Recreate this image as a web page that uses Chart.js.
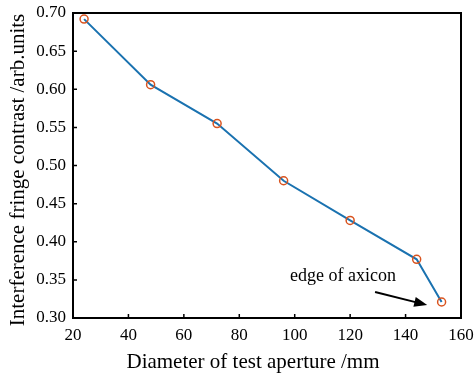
<!DOCTYPE html>
<html>
<head>
<meta charset="utf-8">
<script src="https://cdn.jsdelivr.net/npm/chart.js@4"></script>
<style>
  html, body { margin: 0; padding: 0; background: #fff; }
  #wrap { width: 474px; height: 378px; }
</style>
</head>
<body>
<div id="wrap"><canvas id="chart" width="474" height="378"></canvas></div>
<script>
// aperture diameter (mm) and measured contrast
const diameters = [24, 48, 72, 96, 120, 144, 153]
const contrast = [0.692, 0.606, 0.555, 0.480, 0.428, 0.377, 0.321]
const xTicks = [20, 40, 60, 80, 100, 120, 140, 160]
const yTicks = [0.30, 0.35, 0.40, 0.45, 0.50, 0.55, 0.60, 0.65, 0.70]
const xTitle = 'Diameter of test aperture /mm'
const yTitle = 'Interference fringe contrast /arb.units'

const serif = '"Liberation Serif", "Times New Roman", serif'

// inward ticks, box, axis titles and the axicon note
const framePlugin = {
  id: 'frame',
  afterDraw(chart) {
    const ctx = chart.ctx
    const a = chart.chartArea
    const x = chart.scales.x
    const y = chart.scales.y
    ctx.save()
    ctx.strokeStyle = '#000'
    ctx.lineWidth = 1.5
    ctx.beginPath()
    xTicks.forEach(v => {
      const px = x.getPixelForValue(v)
      ctx.moveTo(px, a.bottom)
      ctx.lineTo(px, a.bottom - 4)
    })
    yTicks.forEach(v => {
      const py = y.getPixelForValue(v)
      ctx.moveTo(a.left, py)
      ctx.lineTo(a.left + 4, py)
    })
    ctx.stroke()
    ctx.lineWidth = 2
    ctx.strokeRect(a.left, a.top, a.right - a.left, a.bottom - a.top)

    // axis titles
    ctx.fillStyle = '#000'
    ctx.font = '21px ' + serif
    ctx.textAlign = 'center'
    ctx.textBaseline = 'middle'
    ctx.fillText(xTitle, 253, 362)
    ctx.save()
    ctx.translate(18, 170)
    ctx.rotate(-Math.PI / 2)
    ctx.fillText(yTitle, 0, 0)
    ctx.restore()

    // annotation
    ctx.font = '18px ' + serif
    ctx.textAlign = 'left'
    ctx.fillText('edge of axicon', x.getPixelForValue(98.3), y.getPixelForValue(0.355))
    const x0 = x.getPixelForValue(129), y0 = y.getPixelForValue(0.334)
    const x1 = x.getPixelForValue(147.8), y1 = y.getPixelForValue(0.317)
    const ang = Math.atan2(y1 - y0, x1 - x0)
    ctx.lineWidth = 2
    ctx.beginPath()
    ctx.moveTo(x0, y0)
    ctx.lineTo(x1 - 8 * Math.cos(ang), y1 - 8 * Math.sin(ang))
    ctx.stroke()
    ctx.beginPath()
    ctx.moveTo(x1, y1)
    ctx.lineTo(x1 - 13 * Math.cos(ang) + 5 * Math.sin(ang), y1 - 13 * Math.sin(ang) - 5 * Math.cos(ang))
    ctx.lineTo(x1 - 13 * Math.cos(ang) - 5 * Math.sin(ang), y1 - 13 * Math.sin(ang) + 5 * Math.cos(ang))
    ctx.closePath()
    ctx.fill()
    ctx.restore()
  }
}

new Chart(document.getElementById('chart').getContext('2d'), {
  type: 'scatter',
  data: {
    datasets: [{
      data: diameters.map((d, i) => ({ x: d, y: contrast[i] })),
      showLine: true,
      borderColor: '#1a72b0',
      borderWidth: 2,
      pointRadius: 4,
      pointBorderWidth: 1.5,
      pointBorderColor: '#d9531e',
      pointBackgroundColor: 'rgba(0,0,0,0)',
      tension: 0
    }]
  },
  options: {
    responsive: false,
    animation: false,
    layout: { padding: { top: 13, right: 13, left: 0, bottom: 0 } },
    plugins: { legend: { display: false }, tooltip: { enabled: false } },
    scales: {
      x: {
        type: 'linear',
        min: 20, max: 160,
        afterBuildTicks: s => { s.ticks = xTicks.map(v => ({ value: v })) },
        afterFit: s => { s.height = 60; s.paddingLeft = 0; s.paddingRight = 0 },
        grid: { display: false, drawTicks: false },
        border: { display: false },
        ticks: { color: '#000', font: { family: serif, size: 17 }, padding: 7 }
      },
      y: {
        min: 0.30, max: 0.70,
        afterBuildTicks: s => { s.ticks = yTicks.map(v => ({ value: v })) },
        afterFit: s => { s.width = 73; s.paddingTop = 0; s.paddingBottom = 0 },
        grid: { display: false, drawTicks: false },
        border: { display: false },
        ticks: { color: '#000', font: { family: serif, size: 17 }, padding: 7, callback: v => v.toFixed(2) }
      }
    }
  },
  plugins: [framePlugin]
})
</script>
</body>
</html>
